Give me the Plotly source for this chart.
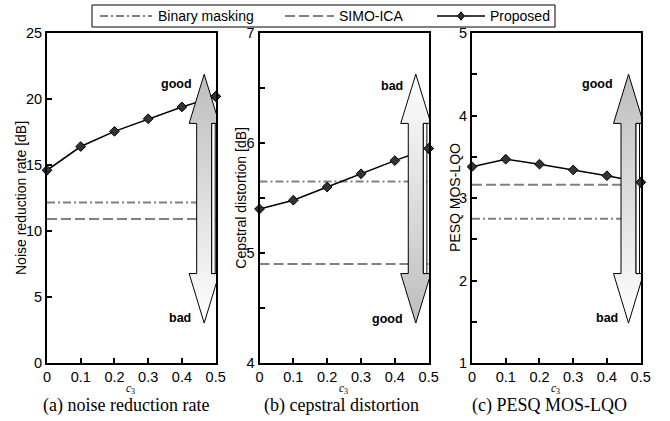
import plotly.graph_objects as go

# ---------------- data ----------------
c3 = [0, 0.1, 0.2, 0.3, 0.4, 0.5]

nrr_proposed = [14.6, 16.4, 17.55, 18.5, 19.4, 20.2]
nrr_binary = 12.15
nrr_simo = 10.9

cd_proposed = [5.40, 5.48, 5.60, 5.72, 5.84, 5.95]
cd_binary = 5.65
cd_simo = 4.90

pesq_proposed = [3.38, 3.47, 3.41, 3.34, 3.27, 3.19]
pesq_binary = 2.75
pesq_simo = 3.16

y_ranges = [[0, 25], [4, 7], [1, 5]]
y_tickvals = [[0, 5, 10, 15, 20, 25],
              [4, 4.5, 5, 5.5, 6, 6.5, 7],
              [1, 1.5, 2, 2.5, 3, 3.5, 4, 4.5, 5]]
y_ticktext = [["0", "5", "10", "15", "20", "25"],
              ["4", "", "5", "", "6", "", "7"],
              ["1", "", "2", "", "3", "", "4", "", "5"]]
x_tickvals = [0, 0.1, 0.2, 0.3, 0.4, 0.5]
x_ticktext = ["0", "0.1", "0.2", "0.3", "0.4", "0.5"]

series_names = ["Binary masking", "SIMO-ICA", "Proposed"]
y_titles = ["Noise reduction rate [dB]", "Cepstral distortion [dB]", "PESQ MOS-LQO"]
sub_titles = ["(a) noise reduction rate", "(b) cepstral distortion", "(c) PESQ MOS-LQO"]
top_labels = ["good", "bad", "good"]
bottom_labels = ["bad", "good", "bad"]

# ---------------- styling / layout ----------------
W, H = 670, 421
SANS = "Liberation Sans, Arial, sans-serif"
SERIF = "Liberation Serif, Times New Roman, serif"
GRAY = "#808080"
ARROW_GRAY = "#bdbdbd"
DASH_BM = "8px,3px,2px,3px"
DASH_SIMO = "10px,4px"
MARK = dict(symbol="diamond", size=7.5, color="#333333", line=dict(color="black", width=1))

x_domains = [[47 / W, 216 / W], [259.5 / W, 429 / W], [472 / W, 641 / W]]
y_domain = [58 / H, 388 / H]
x_range = [0, 0.501]

fig = go.Figure()

proposed = [nrr_proposed, cd_proposed, pesq_proposed]
binary = [nrr_binary, cd_binary, pesq_binary]
simo = [nrr_simo, cd_simo, pesq_simo]

# arrow geometry in axis fractions
arrow_cx = [0.466, 0.462, 0.464]
tip_top, base_top, base_bot, tip_bot = 0.875, 0.726, 0.271, 0.121
px = 0.5 / 168.4
shaft_hw, head_hw, strip_w = 7.5 * px, 15 * px, 3.5 * px
good_pos = [(0.384, 0.8445), (0.3906, 0.839), (0.373, 0.845)]
bad_pos = [(0.394, 0.136), (0.378, 0.132), (0.40, 0.136)]

for i in range(3):
    xa = "x" if i == 0 else f"x{i+1}"
    ya = "y" if i == 0 else f"y{i+1}"
    fig.add_trace(go.Scatter(
        x=[c3[0], c3[-1]], y=[binary[i], binary[i]], mode="lines",
        line=dict(color=GRAY, width=2, dash=DASH_BM),
        name=series_names[0], showlegend=False, xaxis=xa, yaxis=ya))
    fig.add_trace(go.Scatter(
        x=[c3[0], c3[-1]], y=[simo[i], simo[i]], mode="lines",
        line=dict(color=GRAY, width=2, dash=DASH_SIMO),
        name=series_names[1], showlegend=False, xaxis=xa, yaxis=ya))
    fig.add_trace(go.Scatter(
        x=c3, y=proposed[i], mode="lines+markers",
        line=dict(color="black", width=1.5), marker=MARK,
        name=series_names[2], showlegend=False, xaxis=xa, yaxis=ya, cliponaxis=False))

    # double arrow
    y0, y1 = y_ranges[i]
    fy = lambda f, y0=y0, y1=y1: y0 + f * (y1 - y0)
    cx = arrow_cx[i]
    ax = [cx, cx + head_hw, cx + shaft_hw, cx + shaft_hw, cx + head_hw, cx,
          cx - head_hw, cx - shaft_hw, cx - shaft_hw, cx - head_hw, cx]
    ay = [fy(tip_top), fy(base_top), fy(base_top), fy(base_bot), fy(base_bot), fy(tip_bot),
          fy(base_bot), fy(base_bot), fy(base_top), fy(base_top), fy(tip_top)]
    cs = [[0, ARROW_GRAY], [1, "white"]] if i == 1 else [[0, "white"], [1, ARROW_GRAY]]
    fig.add_trace(go.Scatter(
        x=ax, y=ay, mode="lines", fill="toself",
        fillgradient=dict(type="vertical", colorscale=cs,
                          start=fy(tip_bot), stop=fy(tip_top)),
        line=dict(color="black", width=1), showlegend=False, hoverinfo="skip",
        xaxis=xa, yaxis=ya))
    sx = [cx + shaft_hw, cx + shaft_hw + strip_w, cx + shaft_hw + strip_w, cx + shaft_hw, cx + shaft_hw]
    sy = [fy(base_top), fy(base_top), fy(base_bot), fy(base_bot), fy(base_top)]
    fig.add_trace(go.Scatter(
        x=sx, y=sy, mode="lines", fill="toself", fillcolor="white",
        line=dict(color="black", width=1), showlegend=False, hoverinfo="skip",
        xaxis=xa, yaxis=ya))
    fig.add_trace(go.Scatter(
        x=[c3[-1]], y=[proposed[i][-1]], mode="markers", marker=MARK,
        showlegend=False, hoverinfo="skip", xaxis=xa, yaxis=ya, cliponaxis=False))

    gx, gy = good_pos[i]
    bx, by = bad_pos[i]
    fig.add_annotation(x=gx, y=fy(gy), xref=xa, yref=ya, text=f"<b>{top_labels[i]}</b>",
                       showarrow=False, xanchor="center", yanchor="middle",
                       font=dict(family=SANS, size=12.5, color="black"))
    fig.add_annotation(x=bx, y=fy(by), xref=xa, yref=ya, text=f"<b>{bottom_labels[i]}</b>",
                       showarrow=False, xanchor="center", yanchor="middle",
                       font=dict(family=SANS, size=12.5, color="black"))

    axis_common = dict(showline=True, linecolor="black", linewidth=2, mirror=True,
                       ticks="inside", ticklen=5, tickwidth=1.5, tickcolor="black",
                       showgrid=False, zeroline=False,
                       tickfont=dict(family=SANS, size=14.5, color="black"))
    fig.update_layout(**{
        ("xaxis" if i == 0 else f"xaxis{i+1}"): dict(
            domain=x_domains[i], range=x_range, anchor=ya,
            tickvals=x_tickvals, ticktext=x_ticktext, **axis_common),
        ("yaxis" if i == 0 else f"yaxis{i+1}"): dict(
            domain=y_domain, range=y_ranges[i], anchor=xa,
            tickvals=y_tickvals[i], ticktext=y_ticktext[i], **axis_common),
    })

# axis titles and captions
ytitle_x = [21, 240.7, 455]
c3_x = [130, 343.3, 555]
sub_x = [125.8, 341.3, 549.5]
for i in range(3):
    fig.add_annotation(x=ytitle_x[i] / W, y=(H - 198) / H, xref="paper", yref="paper",
                       text=y_titles[i], textangle=-90, showarrow=False,
                       xanchor="center", yanchor="middle",
                       font=dict(family=SANS, size=14, color="black"))
    fig.add_annotation(x=c3_x[i] / W, y=(H - 388.5) / H, xref="paper", yref="paper",
                       text="<i>c</i><sub>3</sub>", showarrow=False,
                       xanchor="center", yanchor="middle",
                       font=dict(family=SERIF, size=11.5, color="black"))
    fig.add_annotation(x=sub_x[i] / W, y=(H - 405) / H, xref="paper", yref="paper",
                       text=sub_titles[i], showarrow=False,
                       xanchor="center", yanchor="middle",
                       font=dict(family=SERIF, size=18, color="black"))

# ---------------- legend (drawn in paper space) ----------------
def px_x(v):
    return v / W


def px_y(v):
    return 1 - v / H


leg_y = 16
fig.add_shape(type="rect", xref="paper", yref="paper",
              x0=px_x(92), x1=px_x(555), y0=px_y(5), y1=px_y(27),
              line=dict(color="black", width=1), fillcolor="white", layer="above")
legend_items = [  # (sample start, sample end, text left, dash)
    (100, 152, 156, DASH_BM),
    (285, 334, 337, DASH_SIMO),
    (437, 485, 488, "solid"),
]
for k, (s0, s1, t0, dash) in enumerate(legend_items):
    col = GRAY if k < 2 else "black"
    wid = 2 if k < 2 else 1.5
    fig.add_shape(type="line", xref="paper", yref="paper",
                  x0=px_x(s0), x1=px_x(s1), y0=px_y(leg_y), y1=px_y(leg_y),
                  line=dict(color=col, width=wid, dash=dash), layer="above")
    fig.add_annotation(x=px_x(t0), y=px_y(leg_y), xref="paper", yref="paper",
                       text=series_names[k], showarrow=False,
                       xanchor="left", yanchor="middle",
                       font=dict(family=SANS, size=14, color="black"))
dcx, dr = 461, 4.2
fig.add_shape(type="path", xref="paper", yref="paper",
              path=(f"M {px_x(dcx)} {px_y(leg_y - dr)} L {px_x(dcx + dr * 0.8)} {px_y(leg_y)} "
                    f"L {px_x(dcx)} {px_y(leg_y + dr)} L {px_x(dcx - dr * 0.8)} {px_y(leg_y)} Z"),
              line=dict(color="black", width=1), fillcolor="#333333", layer="above")

fig.update_layout(
    width=W, height=H,
    margin=dict(l=0, r=0, t=0, b=0, autoexpand=False),
    paper_bgcolor="white", plot_bgcolor="white",
    showlegend=False,
)

fig.write_html("out.html", config={"displayModeBar": False},
               post_script="document.body.style.margin='0';")
